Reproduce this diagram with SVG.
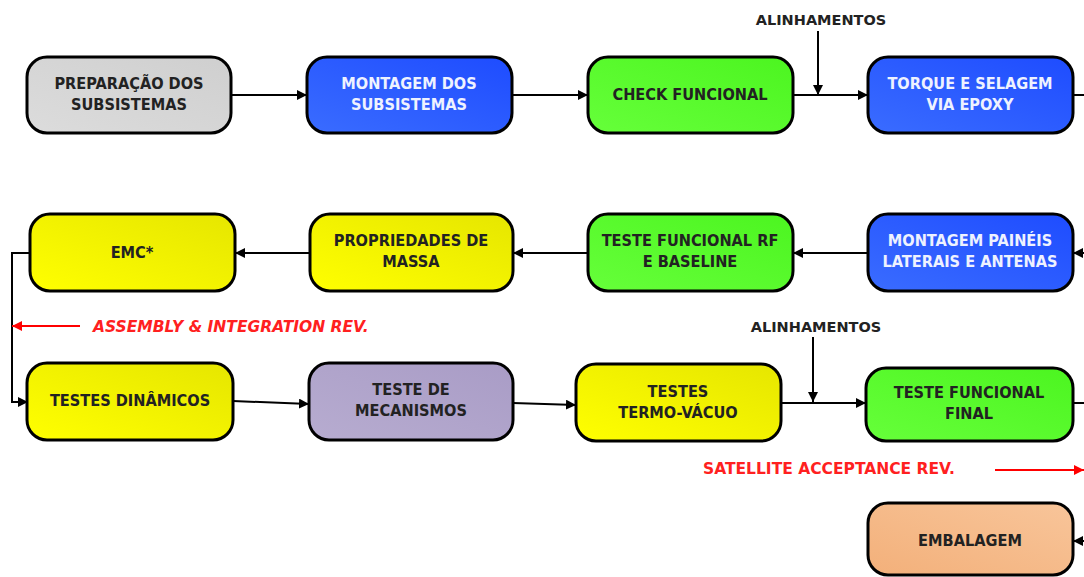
<svg xmlns="http://www.w3.org/2000/svg" width="1084" height="577" viewBox="0 0 1084 577">
<defs>
<linearGradient id="gGray" x1="0" y1="1" x2="1" y2="0"><stop offset="0" stop-color="#dcdcdc"/><stop offset="1" stop-color="#cfcfcf"/></linearGradient>
<linearGradient id="gBlue" x1="0" y1="1" x2="1" y2="0"><stop offset="0" stop-color="#3a6cff"/><stop offset="1" stop-color="#1e4cff"/></linearGradient>
<linearGradient id="gGreen" x1="0" y1="1" x2="1" y2="0"><stop offset="0" stop-color="#66ff3a"/><stop offset="1" stop-color="#4cf520"/></linearGradient>
<linearGradient id="gYellow" x1="0" y1="1" x2="1" y2="0"><stop offset="0" stop-color="#ffff00"/><stop offset="1" stop-color="#e6e600"/></linearGradient>
<linearGradient id="gPurple" x1="0" y1="1" x2="1" y2="0"><stop offset="0" stop-color="#b7acd0"/><stop offset="1" stop-color="#a99cc6"/></linearGradient>
<linearGradient id="gOrange" x1="0" y1="1" x2="1" y2="0"><stop offset="0" stop-color="#f3b07a"/><stop offset="1" stop-color="#f8c59a"/></linearGradient>
<marker id="ah" markerWidth="10" markerHeight="10" viewBox="0 0 10 10" refX="10" refY="5" orient="auto" markerUnits="userSpaceOnUse"><path d="M0,0 L10,5 L0,10 z" fill="#000"/></marker>
<marker id="ahr" markerWidth="10" markerHeight="10" viewBox="0 0 10 10" refX="10" refY="5" orient="auto" markerUnits="userSpaceOnUse"><path d="M0,0 L10,5 L0,10 z" fill="#ff0000"/></marker>
</defs>
<style>
.box{stroke:#000;stroke-width:3}
.t{font-family:"DejaVu Sans Condensed","DejaVu Sans",sans-serif;font-weight:bold;font-size:16.2px;text-anchor:middle;fill:#222}
.w{fill:#eef2ff}
.lbl{font-family:"DejaVu Sans","Liberation Sans",sans-serif;font-weight:bold;font-size:14.5px;text-anchor:middle;fill:#222}
.red{font-family:"DejaVu Sans","Liberation Sans",sans-serif;font-weight:bold;font-size:15.5px;fill:#ff2020}
.c{stroke:#000;stroke-width:2;fill:none}
.cr{stroke:#ff0000;stroke-width:2;fill:none}
</style>
<rect width="1084" height="577" fill="#fff"/>
<g id="connectors">
<line class="c" x1="231" y1="95" x2="307" y2="95" marker-end="url(#ah)"/>
<line class="c" x1="512" y1="95" x2="588" y2="95" marker-end="url(#ah)"/>
<line class="c" x1="793" y1="95" x2="868" y2="95" marker-end="url(#ah)"/>
<line class="c" x1="818" y1="31" x2="818" y2="95" marker-end="url(#ah)"/>
<line class="c" x1="1073" y1="95" x2="1084" y2="95"/>
<line class="c" x1="1084" y1="253" x2="1073" y2="253" marker-end="url(#ah)"/>
<line class="c" x1="868" y1="253" x2="793" y2="253" marker-end="url(#ah)"/>
<line class="c" x1="588" y1="253" x2="513" y2="253" marker-end="url(#ah)"/>
<line class="c" x1="310" y1="253" x2="235" y2="253" marker-end="url(#ah)"/>
<polyline class="c" points="30,253 12,253 12,402 28,402" marker-end="url(#ah)"/>
<line class="cr" x1="80" y1="326" x2="12" y2="326" marker-end="url(#ahr)"/>
<line class="c" x1="233" y1="401" x2="309" y2="404" marker-end="url(#ah)"/>
<line class="c" x1="513" y1="403" x2="576" y2="405" marker-end="url(#ah)"/>
<line class="c" x1="781" y1="403" x2="866" y2="403" marker-end="url(#ah)"/>
<line class="c" x1="813" y1="337" x2="813" y2="402" marker-end="url(#ah)"/>
<line class="c" x1="1073" y1="403" x2="1084" y2="403"/>
<line class="cr" x1="995" y1="470" x2="1084" y2="470" marker-end="url(#ahr)"/>
<line class="c" x1="1084" y1="541" x2="1073" y2="541" marker-end="url(#ah)"/>
</g>
<g id="labels">
<text class="lbl" x="821" y="25">ALINHAMENTOS</text>
<text class="lbl" x="816" y="332">ALINHAMENTOS</text>
<text class="red" x="93" y="332" font-style="italic">ASSEMBLY &amp; INTEGRATION REV.</text>
<text class="red" x="703" y="474">SATELLITE ACCEPTANCE REV.</text>
</g>
<g id="n1"><rect class="box" x="27" y="57" width="204" height="76" rx="20" fill="url(#gGray)"/><text class="t" x="129" y="89">PREPARAÇÃO DOS</text><text class="t" x="129" y="110">SUBSISTEMAS</text></g>
<g id="n2"><rect class="box" x="307" y="57" width="205" height="76" rx="20" fill="url(#gBlue)"/><text class="t w" x="409" y="89">MONTAGEM DOS</text><text class="t w" x="409" y="110">SUBSISTEMAS</text></g>
<g id="n3"><rect class="box" x="588" y="57" width="205" height="76" rx="20" fill="url(#gGreen)"/><text class="t" x="690" y="100">CHECK FUNCIONAL</text></g>
<g id="n4"><rect class="box" x="868" y="57" width="205" height="76" rx="20" fill="url(#gBlue)"/><text class="t w" x="970" y="89">TORQUE E SELAGEM</text><text class="t w" x="970" y="110">VIA EPOXY</text></g>
<g id="n5"><rect class="box" x="30" y="214" width="205" height="77" rx="20" fill="url(#gYellow)"/><text class="t" x="132" y="258">EMC*</text></g>
<g id="n6"><rect class="box" x="310" y="214" width="203" height="77" rx="20" fill="url(#gYellow)"/><text class="t" x="411" y="246">PROPRIEDADES DE</text><text class="t" x="411" y="267">MASSA</text></g>
<g id="n7"><rect class="box" x="588" y="214" width="205" height="77" rx="20" fill="url(#gGreen)"/><text class="t" x="690" y="246">TESTE FUNCIONAL RF</text><text class="t" x="690" y="267">E BASELINE</text></g>
<g id="n8"><rect class="box" x="868" y="214" width="205" height="77" rx="20" fill="url(#gBlue)"/><text class="t w" x="970" y="246">MONTAGEM PAINÉIS</text><text class="t w" x="970" y="267">LATERAIS E ANTENAS</text></g>
<g id="n9"><rect class="box" x="27" y="363" width="206" height="77" rx="20" fill="url(#gYellow)"/><text class="t" x="130" y="406">TESTES DINÂMICOS</text></g>
<g id="n10"><rect class="box" x="309" y="363" width="204" height="77" rx="20" fill="url(#gPurple)"/><text class="t" x="411" y="395">TESTE DE</text><text class="t" x="411" y="416">MECANISMOS</text></g>
<g id="n11"><rect class="box" x="576" y="364" width="205" height="77" rx="20" fill="url(#gYellow)"/><text class="t" x="678" y="397">TESTES</text><text class="t" x="678" y="418">TERMO-VÁCUO</text></g>
<g id="n12"><rect class="box" x="866" y="368" width="207" height="73" rx="20" fill="url(#gGreen)"/><text class="t" x="969" y="398">TESTE FUNCIONAL</text><text class="t" x="969" y="419">FINAL</text></g>
<g id="n13"><rect class="box" x="868" y="503" width="205" height="72" rx="20" fill="url(#gOrange)"/><text class="t" x="970" y="546">EMBALAGEM</text></g>
</svg>
